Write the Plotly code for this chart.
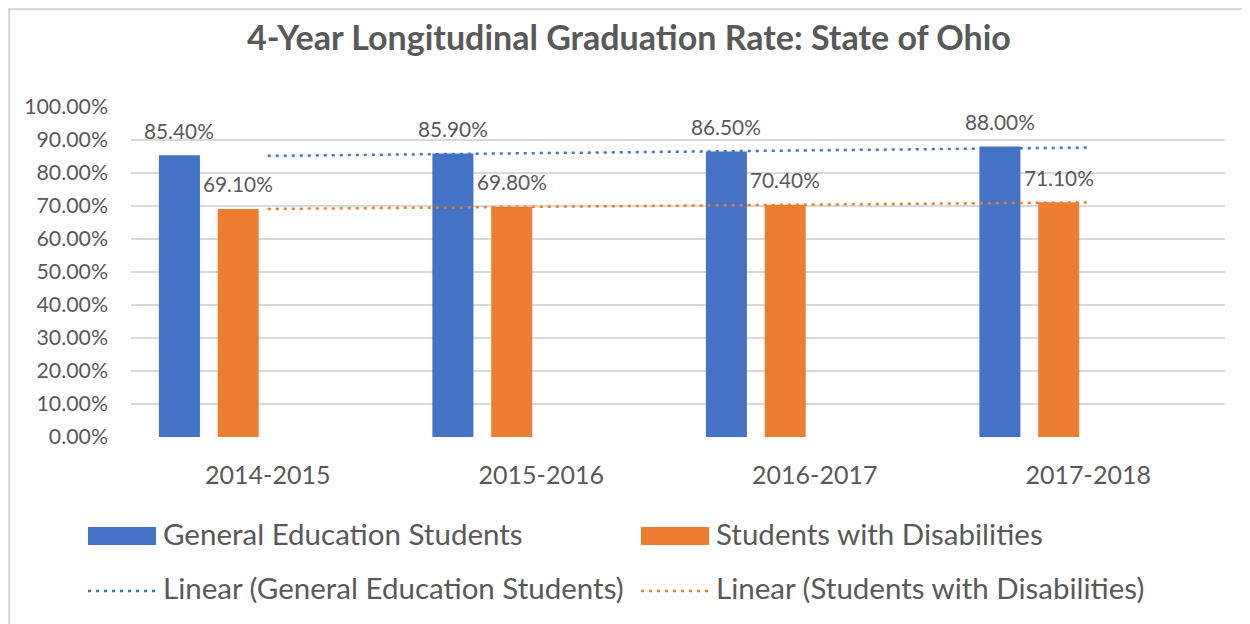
import numpy as np
import plotly.graph_objects as go

categories = ["2014-2015", "2015-2016", "2016-2017", "2017-2018"]
general_ed = [85.40, 85.90, 86.50, 88.00]
disabilities = [69.10, 69.80, 70.40, 71.10]
series_names = ["General Education Students", "Students with Disabilities"]
trend_names = ["Linear (General Education Students)", "Linear (Students with Disabilities)"]
y_ticks = [0, 10, 20, 30, 40, 50, 60, 70, 80, 90, 100]

BLUE = "#4472C4"
ORANGE = "#ED7D31"
GRID = "#D9D9D9"
TXT = "#595959"
FONT = "Lato"

# page has an 8px body margin; work in page pixels and convert
OFF = 8
W, H = 1250 - OFF, 624 - OFF
ML, MR, MT, MB = 131 - OFF, 25, 107 - OFF, 187
PW = W - ML - MR
PH = H - MT - MB

def px_x(px):
    return (px - OFF - ML) / PW

def px_y(py):
    return (H - MB - (py - OFF)) / PH

idx = np.arange(len(categories))
bar_w = 0.15
offsets = [-0.398, -0.183]

fig = go.Figure()
for vals, name, col, off in zip([general_ed, disabilities], series_names, [BLUE, ORANGE], offsets):
    fig.add_trace(go.Bar(
        x=idx, y=vals, name=name, marker=dict(color=col, line=dict(width=0)),
        width=bar_w, offset=off, showlegend=False,
    ))

for vals, name, col in zip([general_ed, disabilities], trend_names, [BLUE, ORANGE]):
    slope, intercept = np.polyfit(idx, vals, 1)
    fit = slope * idx + intercept
    fig.add_trace(go.Scatter(
        x=idx, y=fit, mode="lines", name=name, showlegend=False,
        line=dict(color=col, width=2.5, dash="3px,5px"),
    ))

annotations = []
for vals, off in zip([general_ed, disabilities], offsets):
    for i, v in zip(idx, vals):
        annotations.append(dict(
            x=i + off + bar_w / 2, y=v, xref="x", yref="y", text=f"{v:.2f}%",
            showarrow=False, yshift=25, font=dict(family=FONT, size=20.8, color=TXT),
        ))

# legend (manual, Excel-style): (name, colour, kind, x, symbol centre y, text centre y)
leg_items = [
    (series_names[0], BLUE, "rect", 88, 536, 533.5),
    (series_names[1], ORANGE, "rect", 641, 536, 533.5),
    (trend_names[0], BLUE, "line", 88, 591, 587.5),
    (trend_names[1], ORANGE, "line", 641, 591, 587.5),
]
shapes = []
for name, col, kind, x0, yc, yt in leg_items:
    if kind == "rect":
        shapes.append(dict(type="rect", xref="paper", yref="paper",
                           x0=px_x(x0), x1=px_x(x0 + 68), y0=px_y(yc + 9), y1=px_y(yc - 9),
                           fillcolor=col, line=dict(width=0)))
    else:
        shapes.append(dict(type="line", xref="paper", yref="paper",
                           x0=px_x(x0), x1=px_x(x0 + 68), y0=px_y(yc), y1=px_y(yc),
                           line=dict(color=col, width=2.5, dash="3px,5px")))
    annotations.append(dict(x=px_x(x0 + 73), y=px_y(yt), xref="paper", yref="paper",
                            text=name, showarrow=False, xanchor="left", yanchor="middle",
                            font=dict(family=FONT, size=29.5, color=TXT)))

# chart border (top and left visible)
shapes.append(dict(type="line", xref="paper", yref="paper", x0=px_x(8), x1=px_x(1260),
                   y0=px_y(9), y1=px_y(9), line=dict(color=GRID, width=2.5)))
shapes.append(dict(type="line", xref="paper", yref="paper", x0=px_x(9), x1=px_x(9),
                   y0=px_y(8), y1=px_y(640), line=dict(color=GRID, width=2.5)))

fig.update_layout(
    width=W, height=H,
    margin=dict(l=ML, r=MR, t=MT, b=MB),
    paper_bgcolor="white", plot_bgcolor="white",
    title=dict(text="<b>4-Year Longitudinal Graduation Rate: State of Ohio</b>",
               x=0.5, xref="container", xanchor="center", y=1 - (38 - OFF) / H, yanchor="middle",
               font=dict(family=FONT, size=34, color=TXT)),
    xaxis=dict(tickmode="array", tickvals=idx, ticktext=categories, range=[-0.5, 3.5],
               showgrid=False, zeroline=False, showline=False, ticks="",
               tickfont=dict(family=FONT, size=25, color=TXT), ticklabelstandoff=21),
    yaxis=dict(range=[0, 100], tickvals=y_ticks, ticktext=[f"{t:.2f}%" for t in y_ticks],
               showgrid=True, gridcolor=GRID, gridwidth=2, zeroline=False, showline=False,
               ticks="", tickfont=dict(family=FONT, size=21.3, color=TXT), ticklabelstandoff=22),
    showlegend=False,
    annotations=annotations,
    shapes=shapes,
)

fig.write_html("out.html")
